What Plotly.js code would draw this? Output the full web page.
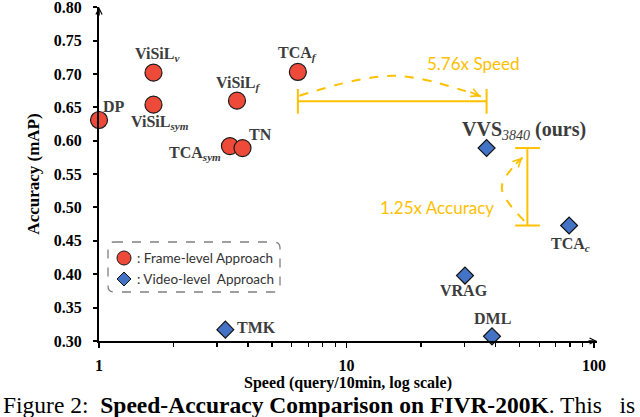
<!DOCTYPE html>
<html><head><meta charset="utf-8">
<script src="https://cdn.plot.ly/plotly-3.0.1.min.js"></script>
<style>html,body{margin:0;padding:0;background:#fff}#chart{width:640px;height:417px}</style>
</head><body><div id="chart"></div>
<script>
// ---- data ----
const frameLabels = ['DP','ViSiL<sub><i>v</i></sub>','ViSiL<sub><i>sym</i></sub>','ViSiL<sub><i>f</i></sub>','TCA<sub><i>sym</i></sub>','TN','TCA<sub><i>f</i></sub>'];
const frameSpeed = [1.0, 1.66, 1.66, 3.61, 3.38, 3.80, 6.36];
const frameAcc = [0.631, 0.702, 0.654, 0.660, 0.592, 0.589, 0.703];
const videoLabels = ['VVS<sub><span style="font-weight:normal"><i>3840</i></span></sub> (ours)','TCA<sub><i>c</i></sub>','VRAG','DML','TMK'];
const videoSpeed = [36.8, 79.3, 30.1, 38.7, 3.24];
const videoAcc = [0.589, 0.473, 0.398, 0.307, 0.317];
const xTickVals = [1, 10, 100];
const xTickText = ['1', '10', '100'];
const yTickVals = [0.30, 0.35, 0.40, 0.45, 0.50, 0.55, 0.60, 0.65, 0.70, 0.75, 0.80];
const yTickText = ['0.30', '0.35', '0.40', '0.45', '0.50', '0.55', '0.60', '0.65', '0.70', '0.75', '0.80'];
const speedupText = '5.76x Speed';
const accuracyGainText = '1.25x Accuracy';
const legendLabels = [': Frame-level Approach', ': Video-level\u00a0 Approach'];
const captionText = 'Figure 2:\u00a0 <b>Speed-Accuracy Comparison on FIVR-200K</b>. This\u00a0\u00a0 is';

// ---- styling / placement ----
const serif = 'Liberation Serif';
const sans = 'Lato';
const gold = '#FFC000';
const labelColor = '#3c3c3c';
const frameLabelPos = [
  {xa:'left', dx:2, dy:14}, {xa:'center', dx:4, dy:18}, {xa:'center', dx:7, dy:-18},
  {xa:'center', dx:1, dy:17}, {xa:'right', dx:-7, dy:-7}, {xa:'left', dx:4, dy:14},
  {xa:'center', dx:0, dy:18}
];
const videoLabelPos = [
  {xa:'left', dx:-27, dy:18, size:20}, {xa:'center', dx:1, dy:-19}, {xa:'center', dx:-1, dy:-15},
  {xa:'center', dx:1, dy:18}, {xa:'left', dx:10, dy:2}
];

// plot area in pixels (for paper conversions of free decorations)
const M = {l:99, r:43, t:7, b:76};
const W = 640, H = 417;
const PW = W - M.l - M.r, PH = H - M.t - M.b;
const px = x => (x - M.l) / PW;
const py = y => (H - M.b - y) / PH;

// bracket geometry
const hY = 0.659, hT = 0.0185;
const s0 = frameSpeed[6], s1 = videoSpeed[0];
const vX = 53.8, vC0 = 48.0, vC1 = 60.4;
const a0 = videoAcc[1], a1 = videoAcc[0];

const traces = [
  { // speed bracket
    x:[s0, s1, null, s0, s0, null, s1, s1],
    y:[hY, hY, null, hY - hT, hY + hT, null, hY - hT, hY + hT],
    mode:'lines', line:{color:gold, width:2}, hoverinfo:'skip', cliponaxis:false
  },
  { // accuracy bracket
    x:[vX, vX, null, vC0, vC1, null, vC0, vC1],
    y:[a0, a1, null, a0, a0, null, a1, a1],
    mode:'lines', line:{color:gold, width:2}, hoverinfo:'skip', cliponaxis:false
  },
  { // speed curved arrow
    x:[6.46, 15.6, 34.9], y:[0.6674, 0.6973, 0.6663],
    mode:'lines', line:{color:gold, width:2, dash:'dash', shape:'spline'}, hoverinfo:'skip'
  },
  { // accuracy curved arrow
    x:[52.2, 42.4, 51.4], y:[0.4802, 0.530, 0.575],
    mode:'lines', line:{color:gold, width:2, dash:'dash', shape:'spline'}, hoverinfo:'skip'
  },
  {
    x:frameSpeed, y:frameAcc, mode:'markers', cliponaxis:false,
    marker:{symbol:'circle', size:17, color:'#EE4A3A', line:{color:'#1a1a1a', width:1.2}}
  },
  {
    x:videoSpeed, y:videoAcc, mode:'markers', cliponaxis:false,
    marker:{symbol:'diamond', size:13, color:'#4472C4', line:{color:'#111', width:1.2}}
  }
];

const annotations = [];
frameLabels.forEach((t, i) => {
  const p = frameLabelPos[i];
  annotations.push({x:Math.log10(frameSpeed[i]), y:frameAcc[i], xref:'x', yref:'y', text:t, showarrow:false,
    xanchor:p.xa, yanchor:'middle', xshift:p.dx, yshift:p.dy,
    font:{family:serif, size:p.size || 16, color:labelColor, weight:'bold'}});
});
videoLabels.forEach((t, i) => {
  const p = videoLabelPos[i];
  annotations.push({x:Math.log10(videoSpeed[i]), y:videoAcc[i], xref:'x', yref:'y', text:t, showarrow:false,
    xanchor:p.xa, yanchor:'middle', xshift:p.dx, yshift:p.dy,
    font:{family:serif, size:p.size || 16, color:labelColor, weight:'bold'}});
});
// orange texts
annotations.push({xref:'paper', yref:'paper', x:px(473), y:py(63), text:speedupText, showarrow:false,
  xanchor:'center', yanchor:'middle', font:{family:sans, size:17, color:gold}});
annotations.push({xref:'paper', yref:'paper', x:px(437), y:py(207), text:accuracyGainText, showarrow:false,
  xanchor:'center', yanchor:'middle', font:{family:sans, size:17, color:gold}});
// arrowheads of the curved arrows
annotations.push({x:Math.log10(34.9), y:0.6663, xref:'x', yref:'y', ax:-12, ay:-5, axref:'pixel', ayref:'pixel',
  showarrow:true, arrowhead:5, arrowsize:0.9, arrowwidth:1.8, arrowcolor:gold, text:'', standoff:0});
annotations.push({x:Math.log10(51.4), y:0.575, xref:'x', yref:'y', ax:-8, ay:8, axref:'pixel', ayref:'pixel',
  showarrow:true, arrowhead:5, arrowsize:0.9, arrowwidth:1.8, arrowcolor:gold, text:'', standoff:0});
// axis arrowheads
annotations.push({xref:'paper', yref:'paper', x:0, y:1, ax:0, ay:10, showarrow:true, arrowhead:5,
  arrowsize:0.8, arrowwidth:1.5, arrowcolor:'#000', text:'', standoff:0});
annotations.push({xref:'paper', yref:'paper', x:1, y:0, ax:-10, ay:0, showarrow:true, arrowhead:5,
  arrowsize:0.8, arrowwidth:1.5, arrowcolor:'#000', text:'', standoff:0});
// legend texts
legendLabels.forEach((t, i) => {
  annotations.push({xref:'paper', yref:'paper', x:px(135), y:py(i === 0 ? 258 : 279), text:t, showarrow:false,
    xanchor:'left', yanchor:'middle', font:{family:sans, size:13.5, color:'#333'}});
});
// caption
annotations.push({xref:'paper', yref:'paper', x:px(1), y:py(405), text:captionText, showarrow:false,
  xanchor:'left', yanchor:'middle', font:{family:serif, size:23.5, color:'#000'}});

// legend box (rounded dashed)
const bx0 = px(108), bx1 = px(280), by0 = py(242), by1 = py(292);
const rx = 6 / PW, ry = 6 / PH;
const boxPath = `M${bx0+rx},${by0} L${bx1-rx},${by0} Q${bx1},${by0} ${bx1},${by0-ry} L${bx1},${by1+ry} Q${bx1},${by1} ${bx1-rx},${by1} L${bx0+rx},${by1} Q${bx0},${by1} ${bx0},${by1+ry} L${bx0},${by0-ry} Q${bx0},${by0} ${bx0+rx},${by0} Z`;
const shapes = [
  {type:'path', xref:'paper', yref:'paper', path:boxPath, line:{color:'#808080', width:1.3, dash:'dash'}},
  {type:'circle', xref:'paper', yref:'paper', xsizemode:'pixel', ysizemode:'pixel',
    xanchor:px(124), yanchor:py(258), x0:-7, x1:7, y0:-7, y1:7,
    fillcolor:'#EE4A3A', line:{color:'#1a1a1a', width:1}},
  {type:'path', xref:'paper', yref:'paper', xsizemode:'pixel', ysizemode:'pixel',
    xanchor:px(124), yanchor:py(279), path:'M0,7 L7,0 L0,-7 L-7,0 Z',
    fillcolor:'#4472C4', line:{color:'#111', width:1}}
];

const layout = {
  width:W, height:H, margin:M, paper_bgcolor:'#fff', plot_bgcolor:'#fff', showlegend:false,
  xaxis:{type:'log', range:[0, 2.012], tickmode:'array', tickvals:xTickVals, ticktext:xTickText,
    ticks:'outside', ticklen:5, tickwidth:1.5, tickcolor:'#000', showline:true, linecolor:'#000', linewidth:2,
    showgrid:false, zeroline:false, ticklabelstandoff:4,
    tickfont:{family:serif, size:16, color:'#000', weight:'bold'},
    minor:{ticks:'outside', ticklen:4, tickwidth:1.2, tickcolor:'#000', tickmode:'array',
      tickvals:[2,3,4,5,6,7,8,9,20,30,40,50,60,70,80,90], showgrid:false},
    title:{text:'Speed (query/10min, log scale)', font:{family:serif, size:16, color:'#000', weight:'bold'}, standoff:2}},
  yaxis:{range:[0.3, 0.8003], tickmode:'array', tickvals:yTickVals, ticktext:yTickText, ticks:'outside', ticklen:4, tickwidth:2,
    tickcolor:'#000', showline:true, linecolor:'#000', linewidth:2, showgrid:false, zeroline:false,
    ticklabelstandoff:8, ticklabeloverflow:'allow', tickfont:{family:serif, size:16, color:'#000', weight:'bold'},
    title:{text:'Accuracy (mAP)', font:{family:serif, size:17, color:'#000', weight:'bold'}, standoff:10}},
  annotations:annotations, shapes:shapes
};

Plotly.newPlot('chart', traces, layout, {displayModeBar:false, staticPlot:true});
</script></body></html>
